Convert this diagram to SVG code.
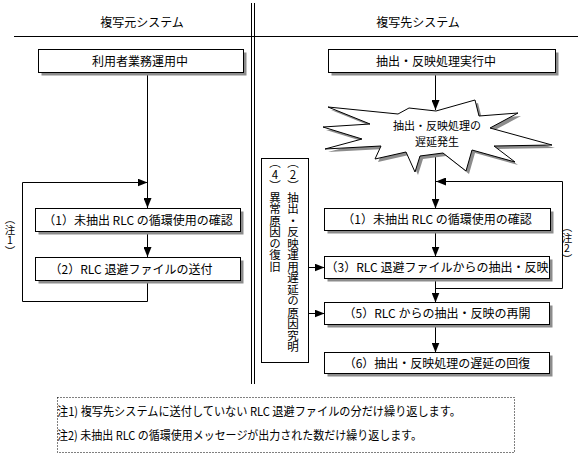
<svg xmlns="http://www.w3.org/2000/svg" width="578" height="460" viewBox="0 0 578 460">
<defs>
<style>
text{font-family:"Noto Sans CJK JP","Noto Sans CJK SC",sans-serif;font-size:12px;fill:#000}
.c{text-anchor:middle}
.box{fill:#fff;stroke:#000;stroke-width:1}
.sh{fill:#8c8c8c;stroke:none}
.ln{fill:none;stroke:#000;stroke-width:1}
.v{writing-mode:vertical-rl;text-orientation:upright}
.burst{font-size:11px}
</style>
<marker id="ah" markerUnits="userSpaceOnUse" markerWidth="10" markerHeight="8" refX="10" refY="4" orient="auto">
<path d="M0,0 L10,4 L0,8 z" fill="#000"/>
</marker>
</defs>
<rect width="578" height="460" fill="#fff"/>
<g id="frame">
<line class="ln" x1="14" y1="36.5" x2="578" y2="36.5"/>
<line class="ln" x1="251.5" y1="3" x2="251.5" y2="384"/>
<line class="ln" x1="254.5" y1="3" x2="254.5" y2="384"/>
<text class="c" x="142" y="26.5">複写元システム</text>
<text class="c" x="418" y="26.5">複写先システム</text>
</g>
<g id="connectors">
<line class="ln" x1="147.5" y1="72" x2="147.5" y2="208" marker-end="url(#ah)"/>
<polyline class="ln" points="147.5,280 147.5,301.5 22.5,301.5 22.5,182.5 147.5,182.5" marker-end="url(#ah)"/>
<line class="ln" x1="147.5" y1="231" x2="147.5" y2="257" marker-end="url(#ah)"/>
<line class="ln" x1="435.5" y1="72" x2="435.5" y2="110" marker-end="url(#ah)"/>
<line class="ln" x1="435.5" y1="154" x2="435.5" y2="208.5" marker-end="url(#ah)"/>
<polyline class="ln" points="435.5,288.5 562.5,288.5 562.5,181.5 436,181.5" marker-end="url(#ah)"/>
<line class="ln" x1="435.5" y1="231" x2="435.5" y2="256.5" marker-end="url(#ah)"/>
<line class="ln" x1="435.5" y1="279" x2="435.5" y2="302.5" marker-end="url(#ah)"/>
<line class="ln" x1="435.5" y1="325" x2="435.5" y2="352.5" marker-end="url(#ah)"/>
<line class="ln" x1="309" y1="267.5" x2="324.5" y2="267.5" marker-end="url(#ah)"/>
<line class="ln" x1="309" y1="313.5" x2="324.5" y2="313.5" marker-end="url(#ah)"/>
</g>
<g id="n-src-running">
<rect class="sh" x="41.5" y="52.5" width="205" height="23"/>
<rect class="box" x="38.5" y="49.5" width="205" height="23"/>
<text class="c" x="140" y="65.5">利用者業務運用中</text>
</g>
<g id="n-dst-running">
<rect class="sh" x="331.5" y="52.5" width="227" height="23"/>
<rect class="box" x="328.5" y="49.5" width="227" height="23"/>
<text class="c" x="436" y="65.5">抽出・反映処理実行中</text>
</g>
<g id="n-delay">
<polygon class="sh" transform="translate(3,3)" points="436,111 475,100 479,116 518,113 490,128 552,145 494,146 515,162 472,150 466,171 443,153 420,156 415,172 406,152 375,159 381,146 325,149 362,139 323,127 370,124 328,107 398,114 409,108"/>
<polygon class="box" points="436,111 475,100 479,116 518,113 490,128 552,145 494,146 515,162 472,150 466,171 443,153 420,156 415,172 406,152 375,159 381,146 325,149 362,139 323,127 370,124 328,107 398,114 409,108"/>
<text class="c burst" x="437" y="130">抽出・反映処理の</text>
<text class="c burst" x="437" y="146">遅延発生</text>
</g>
<g id="n-src-1">
<rect class="sh" x="38.5" y="211.5" width="205" height="23"/>
<rect class="box" x="35.5" y="208.5" width="205" height="23"/>
<text class="c" x="138" y="224.5">（1）未抽出 RLC の循環使用の確認</text>
</g>
<g id="n-src-2">
<rect class="sh" x="38.5" y="260.5" width="205" height="23"/>
<rect class="box" x="35.5" y="257.5" width="205" height="23"/>
<text class="c" x="131" y="273.5">（2）RLC 退避ファイルの送付</text>
</g>
<g id="n-note1">
<text class="v" x="10" y="214" style="font-size:10.5px">（注1）</text>
</g>
<g id="n-cause">
<rect class="box" x="261.5" y="158.5" width="47" height="204"/>
<text class="v" x="293" y="157" style="font-size:11.5px">（2）抽出・反映運用遅延の原因究明</text>
<text class="v" x="275" y="157" style="font-size:11.5px">（4）異常原因の復旧</text>
</g>
<g id="n-dst-1">
<rect class="sh" x="327.5" y="211.5" width="226" height="22"/>
<rect class="box" x="324.5" y="208.5" width="226" height="22"/>
<text class="c" x="437" y="224">（1）未抽出 RLC の循環使用の確認</text>
</g>
<g id="n-dst-3">
<rect class="sh" x="327.5" y="259.5" width="225" height="22"/>
<rect class="box" x="324.5" y="256.5" width="225" height="22"/>
<text class="c" x="437" y="272">（3）RLC 退避ファイルからの抽出・反映</text>
</g>
<g id="n-dst-5">
<rect class="sh" x="327.5" y="305.5" width="225" height="22"/>
<rect class="box" x="324.5" y="302.5" width="225" height="22"/>
<text class="c" x="437" y="318">（5）RLC からの抽出・反映の再開</text>
</g>
<g id="n-dst-6">
<rect class="sh" x="327.5" y="355.5" width="225" height="21"/>
<rect class="box" x="324.5" y="352.5" width="225" height="21"/>
<text class="c" x="437" y="367.5">（6）抽出・反映処理の遅延の回復</text>
</g>
<g id="n-note2">
<text class="v" x="567" y="222" style="font-size:10.5px">（注2）</text>
</g>
<g id="n-notes">
<rect x="57.5" y="397.5" width="457" height="55" fill="none" stroke="#000" stroke-width="1" stroke-dasharray="1 2"/>
<text x="57" y="415.5" textLength="404" lengthAdjust="spacingAndGlyphs">注1) 複写先システムに送付していない RLC 退避ファイルの分だけ繰り返します。</text>
<text x="57" y="439.5" textLength="365" lengthAdjust="spacingAndGlyphs">注2) 未抽出 RLC の循環使用メッセージが出力された数だけ繰り返します。</text>
</g>
</svg>
